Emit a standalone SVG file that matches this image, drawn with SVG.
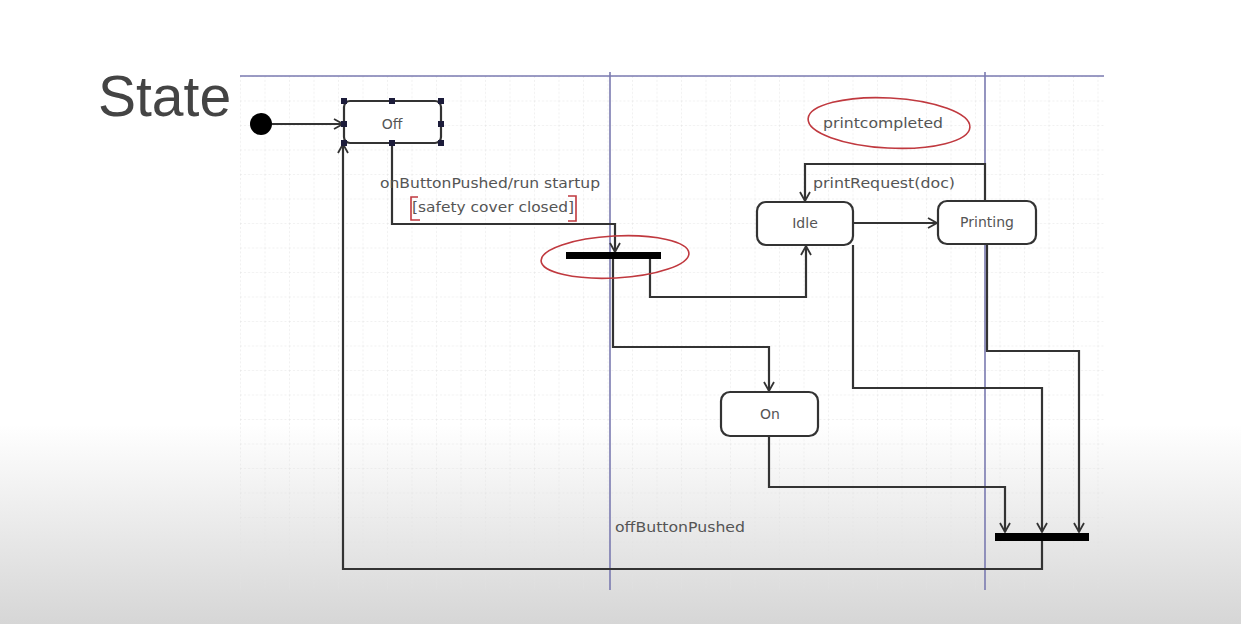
<svg xmlns="http://www.w3.org/2000/svg" width="1241" height="624" viewBox="0 0 1241 624">
<defs>
<linearGradient id="bg" x1="0" y1="0" x2="0" y2="1">
<stop offset="0" stop-color="#ffffff"/>
<stop offset="0.68" stop-color="#ffffff"/>
<stop offset="1" stop-color="#d6d6d6"/>
</linearGradient>
<pattern id="grid" x="240" y="76" width="24.5" height="24.5" patternUnits="userSpaceOnUse">
<path d="M0,0 H24.5 M0,0 V24.5" fill="none" stroke="#e2e2e2" stroke-width="1" stroke-dasharray="2 2"/>
</pattern>
<marker id="arr" markerWidth="12" markerHeight="12" refX="10" refY="6" orient="auto" markerUnits="userSpaceOnUse">
<path d="M1,1 L10,6 L1,11" fill="none" stroke="#333" stroke-width="1.8"/>
</marker>
<style>
.st{fill:#fff;stroke:#333;stroke-width:2.2}
.lbl{font-family:"DejaVu Sans","Liberation Sans",sans-serif;font-size:14px;fill:#555}
.c{fill:none;stroke:#333;stroke-width:2.2;marker-end:url(#arr)}
.h{fill:#1c1c3a}
.red{fill:none;stroke:#c0393f;stroke-width:1.6}
.sep{stroke:#7a7ab0;stroke-width:1.6}
</style>
</defs>
<rect width="1241" height="624" fill="url(#bg)"/>
<rect x="240" y="76" width="864" height="514" fill="url(#grid)"/>
<text x="98" y="116" font-family="Liberation Sans, Arial, sans-serif" font-size="57" fill="#444">State</text>
<g id="swimlanes">
<line class="sep" x1="240" y1="76" x2="1104" y2="76"/>
<line class="sep" x1="610" y1="72" x2="610" y2="590"/>
<line class="sep" x1="985" y1="72" x2="985" y2="590"/>
</g>
<g id="connectors">
<path class="c" d="M272,124 H343"/>
<path class="c" d="M392,143 V224 H615 V252"/>
<path class="c" d="M650,259 V297 H806 V246"/>
<path class="c" d="M613,259 V347 H769 V391"/>
<path class="c" d="M853,223 H937"/>
<path class="c" d="M985,201 V164 H805 V201"/>
<path class="c" d="M769,436 V487 H1005 V532"/>
<path class="c" d="M853,245 V388 H1042 V532"/>
<path class="c" d="M987,244 V351 H1079 V532"/>
<path class="c" d="M1042,541 V569 H343 V144"/>
</g>
<g id="initial">
<circle cx="261" cy="124" r="11" fill="#000"/>
</g>
<g id="off">
<rect class="st" x="344" y="101" width="97" height="42" rx="6"/>
<text class="lbl" x="392" y="129" text-anchor="middle">Off</text>
<rect class="h" x="341" y="98" width="6" height="6"/><rect class="h" x="389" y="98" width="6" height="6"/><rect class="h" x="438" y="98" width="6" height="6"/>
<rect class="h" x="341" y="121" width="6" height="6"/><rect class="h" x="438" y="121" width="6" height="6"/>
<rect class="h" x="341" y="140" width="6" height="6"/><rect class="h" x="389" y="140" width="6" height="6"/><rect class="h" x="438" y="140" width="6" height="6"/>
</g>
<g id="label-startup">
<text class="lbl" x="490" y="188" text-anchor="middle" textLength="220" lengthAdjust="spacingAndGlyphs">onButtonPushed/run startup</text>
<text class="lbl" x="493" y="212" text-anchor="middle" textLength="162" lengthAdjust="spacingAndGlyphs">[safety cover closed]</text>
<path class="red" d="M418,197 H411 V220 H420"/>
<path class="red" d="M568,196 H576 V221 H568"/>
</g>
<g id="fork">
<rect x="566" y="252" width="95" height="7" fill="#000"/>
<ellipse class="red" cx="615" cy="257" rx="74" ry="21" transform="rotate(-3 615 257)"/>
</g>
<g id="idle">
<rect class="st" x="757" y="202" width="96" height="43" rx="9"/>
<text class="lbl" x="805" y="228" text-anchor="middle">Idle</text>
</g>
<g id="printing">
<rect class="st" x="938" y="201" width="98" height="43" rx="9"/>
<text class="lbl" x="987" y="227" text-anchor="middle">Printing</text>
</g>
<g id="label-printRequest">
<text class="lbl" x="813" y="188" textLength="142" lengthAdjust="spacingAndGlyphs">printRequest(doc)</text>
</g>
<g id="printcompleted">
<ellipse class="red" cx="889" cy="123" rx="81" ry="25" transform="rotate(3 889 123)"/>
<text class="lbl" x="883" y="128" text-anchor="middle" textLength="120" lengthAdjust="spacingAndGlyphs">printcompleted</text>
</g>
<g id="on">
<rect class="st" x="721" y="392" width="97" height="44" rx="9"/>
<text class="lbl" x="770" y="419" text-anchor="middle">On</text>
</g>
<g id="join">
<rect x="995" y="533" width="94" height="8" fill="#000"/>
</g>
<g id="label-off">
<text class="lbl" x="615" y="532" textLength="130" lengthAdjust="spacingAndGlyphs">offButtonPushed</text>
</g>
</svg>
